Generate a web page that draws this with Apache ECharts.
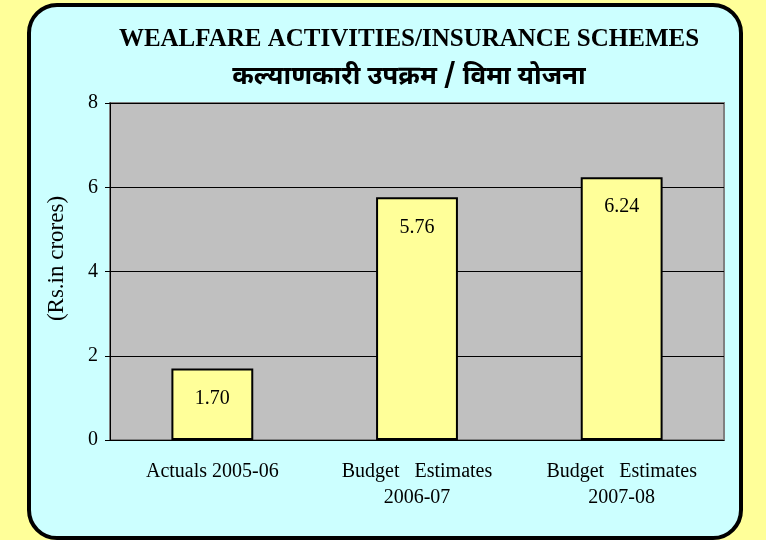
<!DOCTYPE html>
<html>
<head>
<meta charset="utf-8">
<script src="https://cdn.jsdelivr.net/npm/echarts@6/dist/echarts.min.js"></script>
<style>
  html, body { margin: 0; padding: 0; background: #FFFF99; }
  #chart { width: 766px; height: 540px; }
</style>
</head>
<body>
<div id="chart"></div>
<script>
// chart data
var categories = ['Actuals 2005-06', 'Budget   Estimates\n2006-07', 'Budget   Estimates\n2007-08'];
var values = [1.70, 5.76, 6.24];
var yTicks = [0, 2, 4, 6, 8];

var serif = '"Liberation Serif", "Times New Roman", serif';

var chart = echarts.init(document.getElementById('chart'));

var option = {
    backgroundColor: '#FFFF99',
    graphic: [
        {
            type: 'rect',
            z: -10,
            shape: { x: 29, y: 5, width: 712, height: 533, r: 28 },
            style: { fill: '#CCFFFF', stroke: '#000', lineWidth: 4 }
        }
    ],
    title: [
        {
            text: 'WEALFARE ACTIVITIES/INSURANCE SCHEMES',
            left: 404,
            top: 22,
            textAlign: 'center',
            textStyle: { fontFamily: serif, fontSize: 25, fontWeight: 'bold', color: '#000' }
        },
        {
            text: 'कल्याणकारी उपक्रम / विमा योजना',
            left: 404,
            top: 61,
            textAlign: 'center',
            textStyle: { fontFamily: '"Noto Sans Devanagari", "Noto Sans", sans-serif', fontSize: 26, fontWeight: 'bold', color: '#000' }
        }
    ],
    grid: {
        left: 110,
        right: 42,
        top: 103,
        bottom: 100,
        show: true,
        backgroundColor: '#C0C0C0',
        borderColor: '#808080',
        borderWidth: 2
    },
    xAxis: {
        type: 'category',
        data: categories,
        axisLine: { lineStyle: { color: '#000', width: 1 } },
        axisTick: { length: 6, lineStyle: { color: '#000' } },
        axisLabel: {
            margin: 19,
            fontFamily: serif,
            fontSize: 20,
            color: '#000',
            lineHeight: 26
        }
    },
    yAxis: {
        type: 'value',
        min: 0,
        max: 8,
        interval: 2,
        name: '(Rs.in crores)',
        nameLocation: 'middle',
        nameGap: 42,
        nameRotate: 90,
        nameTextStyle: { fontFamily: serif, fontSize: 23, color: '#000', padding: [0, 0, 0, 26] },
        axisLine: { show: true, lineStyle: { color: '#000', width: 1 } },
        axisTick: { show: true, length: 5, lineStyle: { color: '#000' } },
        axisLabel: {
            margin: 12,
            fontFamily: serif,
            fontSize: 20,
            color: '#000',
            formatter: function (v) { return yTicks.indexOf(v) >= 0 ? String(v) : ''; }
        },
        splitLine: { show: true, lineStyle: { color: '#000', width: 1 } }
    },
    series: [
        {
            type: 'bar',
            data: values,
            barWidth: '40%',
            itemStyle: { color: '#FFFF99', borderColor: '#000', borderWidth: 2 },
            label: {
                show: true,
                position: 'insideTop',
                distance: 20,
                fontFamily: serif,
                fontSize: 20,
                color: '#000',
                formatter: function (p) { return p.value.toFixed(2); }
            }
        }
    ]
};

chart.setOption(option);
</script>
</body>
</html>
